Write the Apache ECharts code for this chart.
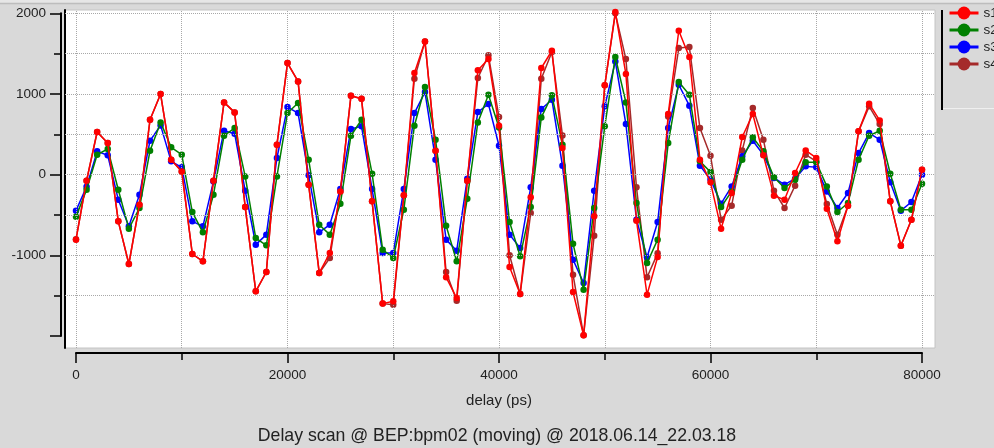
<!DOCTYPE html>
<html>
<head>
<meta charset="utf-8">
<title>Delay scan</title>
<script src="https://cdn.jsdelivr.net/npm/echarts@6/dist/echarts.min.js"></script>
<style>
  html, body { margin: 0; padding: 0; background: #d9d9d9; }
  #chart { width: 994px; height: 448px; }
</style>
</head>
<body>
<div id="chart"></div>
<script>
// delay steps (ps)
const delays = [0, 1000, 2000, 3000, 4000, 5000, 6000, 7000, 8000, 9000,
  10000, 11000, 12000, 13000, 14000, 15000, 16000, 17000, 18000, 19000,
  20000, 21000, 22000, 23000, 24000, 25000, 26000, 27000, 28000, 29000,
  30000, 31000, 32000, 33000, 34000, 35000, 36000, 37000, 38000, 39000,
  40000, 41000, 42000, 43000, 44000, 45000, 46000, 47000, 48000, 49000,
  50000, 51000, 52000, 53000, 54000, 55000, 56000, 57000, 58000, 59000,
  60000, 61000, 62000, 63000, 64000, 65000, 66000, 67000, 68000, 69000,
  70000, 71000, 72000, 73000, 74000, 75000, 76000, 77000, 78000, 79000, 80000];

const s1 = [-805, -74, 529, 392, -578, -1107, -372, 681, 999, 186,
  41, -983, -1074, -74, 896, 772, -401, -1446, -1206, 372,
  1384, 1156, -124, -1218, -971, -207, 979, 942, -330, -1598,
  -1569, -256, 1260, 1652, 297, -1272, -1528, -74, 1293, 1433,
  605, -1144, -1478, -281, 1322, 1536, 330, -1454, -1991, -516,
  1107, 2015, 1247, -570, -1487, -1020, 752, 1784, 1458, 186,
  -95, -669, -227, 467, 752, 240, -260, -310, 21, 301,
  207, -421, -826, -384, 537, 880, 673, -330, -880, -558, 62];

const s2 = [-520, -186, 248, 318, -186, -669, -413, 297, 648, 339,
  248, -463, -715, -248, 483, 578, -21, -785, -876, -21,
  764, 888, 186, -620, -743, -359, 483, 681, 12, -929,
  -1033, -434, 607, 1086, 434, -632, -1074, -297, 648, 991,
  586, -586, -1012, -401, 710, 983, 372, -855, -1425, -413,
  599, 1458, 896, -351, -1094, -805, 392, 1148, 991, 165,
  33, -401, -207, 186, 463, 289, -33, -165, -62, 153,
  153, -145, -463, -351, 186, 483, 545, 12, -434, -434, -112];

const s3 = [-446, -150, 289, 240, -310, -640, -248, 421, 611, 165,
  91, -578, -640, -83, 545, 508, -198, -867, -743, 207,
  838, 764, -8, -715, -620, -178, 566, 599, -178, -971,
  -971, -178, 764, 1024, 186, -805, -942, -50, 776, 876,
  359, -743, -909, -157, 814, 929, 112, -1053, -1342, -198,
  847, 1404, 628, -558, -1024, -586, 578, 1115, 855, 112,
  -60, -359, -145, 227, 421, 248, -40, -124, -50, 103,
  91, -207, -413, -227, 268, 516, 434, -95, -446, -339, 0];

const s4 = [-800, -74, 529, 392, -578, -1107, -372, 681, 999, 186,
  41, -983, -1074, -74, 896, 772, -401, -1446, -1206, 372,
  1384, 1156, -124, -1218, -1033, -207, 979, 942, -330, -1598,
  -1611, -256, 1189, 1652, 297, -1206, -1561, -74, 1198, 1479,
  714, -999, -1478, -475, 1189, 1520, 487, -1239, -1991, -756,
  1107, 2000, 1433, -157, -1272, -975, 720, 1569, 1582, 578,
  235, -558, -384, 301, 826, 434, -198, -413, -136, 248,
  165, -363, -743, -384, 537, 847, 628, -330, -880, -558, 62];

const xGridLines = [0, 10000, 20000, 30000, 40000, 50000, 60000, 70000, 80000];
const yGridLines = [-1500, -1000, -500, 0, 500, 1000, 1500, 2000];

const names = ['s1', 's2', 's3', 's4'];
const colors = ['#ff0000', '#008000', '#0000ff', '#a52a2a'];
const seriesValues = [s1, s2, s3, s4];
const titleText = 'Delay scan @ BEP:bpm02 (moving) @ 2018.06.14_22.03.18';

const font = 'Liberation Sans';

function pairs(values) {
  return delays.map((d, i) => [d, values[i]]);
}

let chart = echarts.init(document.getElementById('chart'));

let gridLineStyle = { color: '#a8a8a8', type: 'dotted', width: 1 };

let series = [
  {
    // dotted grid of the plot box
    type: 'line',
    data: [],
    xAxisIndex: 0,
    yAxisIndex: 0,
    z: 1,
    silent: true,
    markLine: {
      silent: true,
      symbol: ['none', 'none'],
      label: { show: false },
      lineStyle: gridLineStyle,
      data: xGridLines.map(v => ({ xAxis: v })).concat(yGridLines.map(v => ({ yAxis: v })))
    }
  }
];

// s4 drawn first, s1 last so the red trace sits on top
[3, 2, 1, 0].forEach(k => {
  series.push({
    name: names[k],
    type: 'line',
    xAxisIndex: 0,
    yAxisIndex: 0,
    data: pairs(seriesValues[k]),
    symbol: 'circle',
    symbolSize: 6.5,
    showSymbol: true,
    clip: false,
    z: 2 + (3 - k),
    itemStyle: { color: colors[k] },
    lineStyle: { color: colors[k], width: 1.5 }
  });
});

let option = {
  backgroundColor: '#d9d9d9',
  animation: false,
  textStyle: { fontFamily: font },
  title: {
    text: titleText,
    left: 'center',
    top: 427,
    padding: 0,
    textStyle: { fontFamily: font, fontSize: 17.7, fontWeight: 'normal', color: '#222' }
  },
  legend: {
    data: names,
    orient: 'vertical',
    left: 948,
    top: 6,
    padding: 0,
    itemWidth: 29,
    itemHeight: 16,
    itemGap: 3,
    lineStyle: { width: 3 },
    textStyle: { fontFamily: font, fontSize: 13.5, color: '#222' }
  },
  grid: [
    { left: 65, top: 10, width: 870, height: 338, show: true, backgroundColor: '#ffffff', borderColor: '#c4c4c4', borderWidth: 1 },
    { left: 76, top: 13.3, width: 846, height: 322.8 }
  ],
  xAxis: [
    { gridIndex: 0, type: 'value', min: -1040, max: 81229, show: false },
    {
      gridIndex: 1,
      type: 'value',
      min: 0,
      max: 80000,
      interval: 20000,
      position: 'bottom',
      offset: 17,
      name: 'delay (ps)',
      nameLocation: 'middle',
      nameGap: 40,
      nameTextStyle: { fontFamily: font, fontSize: 15, color: '#222' },
      axisLine: { show: true, onZero: false, lineStyle: { color: '#000', width: 2 } },
      axisTick: { show: true, length: 10, lineStyle: { color: '#000', width: 1.5 } },
      minorTick: { show: true, splitNumber: 2, length: 7, lineStyle: { color: '#000', width: 1.5 } },
      splitLine: { show: false },
      axisLabel: { margin: 15, fontFamily: font, fontSize: 13.5, color: '#222', formatter: v => String(v) }
    }
  ],
  yAxis: [
    {
      gridIndex: 0,
      type: 'value',
      min: -2148,
      max: 2041,
      axisLine: { show: true, onZero: false, lineStyle: { color: '#000', width: 2 } },
      axisTick: { show: false },
      axisLabel: { show: false },
      splitLine: { show: false }
    },
    {
      gridIndex: 1,
      type: 'value',
      min: -2000,
      max: 2000,
      interval: 1000,
      position: 'left',
      offset: 15,
      axisLine: { show: true, onZero: false, lineStyle: { color: '#000', width: 2 } },
      axisTick: { show: true, length: 11, lineStyle: { color: '#000', width: 1.5 } },
      minorTick: { show: true, splitNumber: 2, length: 7, lineStyle: { color: '#000', width: 1.5 } },
      splitLine: { show: false },
      axisLabel: {
        margin: 15,
        fontFamily: font,
        fontSize: 13.5,
        color: '#222',
        formatter: v => (v === -2000 ? '' : String(v))
      }
    }
  ],
  graphic: [
    { type: 'rect', shape: { x: 0, y: 0, width: 994, height: 3 }, style: { fill: '#e6e6e6' }, silent: true },
    { type: 'line', shape: { x1: 0, y1: 3.5, x2: 994, y2: 3.5 }, style: { stroke: '#bdbdbd', lineWidth: 1.5 }, silent: true },
    { type: 'line', shape: { x1: 942, y1: 10, x2: 942, y2: 110 }, style: { stroke: '#000', lineWidth: 2 }, silent: true },
    { type: 'line', shape: { x1: 943, y1: 108.5, x2: 994, y2: 108.5 }, style: { stroke: '#efefef', lineWidth: 1 }, silent: true }
  ],
  series: series
};

option && chart.setOption(option);
</script>
</body>
</html>
